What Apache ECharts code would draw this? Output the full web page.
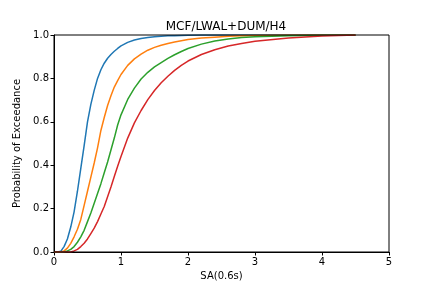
<!DOCTYPE html>
<html lang="en">
<head>
  <meta charset="UTF-8">
  <title>MCF/LWAL+DUM/H4</title>
  <style>
    body { margin: 0; padding: 0; background: #fff; }
    #chart { width: 432px; height: 288px; }
  </style>
</head>
<body>
  <div id="chart"></div>
  <script src="https://cdn.jsdelivr.net/npm/echarts@6.0.0/dist/echarts.min.js"></script>
  <script>
    // SA(0.6s) sample points shared by all curves
    const saValues = [0, 0.05, 0.1, 0.15, 0.2, 0.25, 0.3, 0.35, 0.4, 0.45, 0.5,
      0.55, 0.6, 0.65, 0.7, 0.75, 0.8, 0.85, 0.9, 0.95, 1.0,
      1.1, 1.2, 1.3, 1.4, 1.5, 1.6, 1.7, 1.8, 1.9, 2.0,
      2.2, 2.4, 2.6, 2.8, 3.0, 3.5, 4.0, 4.5];

    // probability values, one array per curve
    const blueCurve = [0, 0, 0.003, 0.025, 0.06, 0.115, 0.185, 0.28, 0.385, 0.49, 0.6,
      0.68, 0.745, 0.8, 0.84, 0.87, 0.893, 0.91, 0.925, 0.938, 0.95,
      0.966, 0.977, 0.984, 0.989, 0.992, 0.994, 0.996, 0.997, 0.998, 0.999,
      0.9995, 1, 1, 1, 1, 1, 1, 1];
    const orangeCurve = [0, 0, 0, 0.005, 0.018, 0.04, 0.07, 0.105, 0.15, 0.215, 0.28,
      0.345, 0.41, 0.48, 0.56, 0.62, 0.675, 0.72, 0.76, 0.79, 0.818,
      0.86, 0.89, 0.912, 0.93, 0.943, 0.953, 0.961, 0.968, 0.974, 0.979,
      0.986, 0.99, 0.994, 0.996, 0.998, 0.9995, 1, 1];
    const greenCurve = [0, 0, 0, 0, 0.005, 0.012, 0.025, 0.045, 0.07, 0.1, 0.14,
      0.18, 0.225, 0.27, 0.315, 0.365, 0.415, 0.47, 0.525, 0.585, 0.632,
      0.703, 0.755, 0.797, 0.828, 0.853, 0.873, 0.892, 0.909, 0.924, 0.938,
      0.958, 0.972, 0.982, 0.988, 0.992, 0.997, 0.999, 1];
    const redCurve = [0, 0, 0, 0, 0, 0, 0.005, 0.012, 0.025, 0.04, 0.06,
      0.085, 0.11, 0.14, 0.175, 0.21, 0.255, 0.3, 0.348, 0.395, 0.44,
      0.525, 0.595, 0.652, 0.702, 0.744, 0.78, 0.81, 0.837, 0.86, 0.88,
      0.91, 0.932, 0.949, 0.961, 0.971, 0.986, 0.995, 1];

    const xTicks = [0, 1, 2, 3, 4, 5];
    const yTicks = [0, 0.2, 0.4, 0.6, 0.8, 1.0];

    const chart = echarts.init(document.getElementById('chart'));
    const font = 'DejaVu Sans';

    function makeSeries(values, color) {
      return {
        type: 'line',
        data: saValues.map((x, i) => [x, values[i]]),
        showSymbol: false,
        smooth: false,
        lineStyle: { color: color, width: 1.5 },
        z: 1
      };
    }

    chart.setOption({
      animation: false,
      title: {
        text: 'MCF/LWAL+DUM/H4',
        left: 221,
        top: 16,
        textAlign: 'center',
        textStyle: { fontFamily: font, fontSize: 12, fontWeight: 'normal', color: '#000' }
      },
      grid: {
        left: 54, right: 43, top: 35, bottom: 36,
        show: true, borderColor: '#000', borderWidth: 1, z: 5
      },
      xAxis: {
        type: 'value',
        min: xTicks[0], max: xTicks[xTicks.length - 1], interval: 1,
        name: 'SA(0.6s)',
        nameLocation: 'middle',
        nameGap: 19,
        nameTextStyle: { fontFamily: font, fontSize: 10, color: '#000' },
        axisLine: { show: true, lineStyle: { color: '#000', width: 1 } },
        axisTick: { show: true, inside: false, length: 3.5, lineStyle: { color: '#000' } },
        axisLabel: { fontFamily: font, fontSize: 10, color: '#000', margin: 5 },
        splitLine: { show: false }
      },
      yAxis: {
        type: 'value',
        min: yTicks[0], max: yTicks[yTicks.length - 1], interval: 0.2,
        name: 'Probability of Exceedance',
        nameLocation: 'middle',
        nameGap: 28,
        nameTextStyle: { fontFamily: font, fontSize: 10, color: '#000' },
        axisLine: { show: true, lineStyle: { color: '#000', width: 1 } },
        axisTick: { show: true, inside: false, length: 3.5, lineStyle: { color: '#000' } },
        axisLabel: {
          fontFamily: font, fontSize: 10, color: '#000', margin: 5,
          formatter: v => v.toFixed(1)
        },
        splitLine: { show: false }
      },
      series: [
        makeSeries(blueCurve, '#1f77b4'),
        makeSeries(orangeCurve, '#ff7f0e'),
        makeSeries(greenCurve, '#2ca02c'),
        makeSeries(redCurve, '#d62728')
      ]
    });
  </script>
</body>
</html>
